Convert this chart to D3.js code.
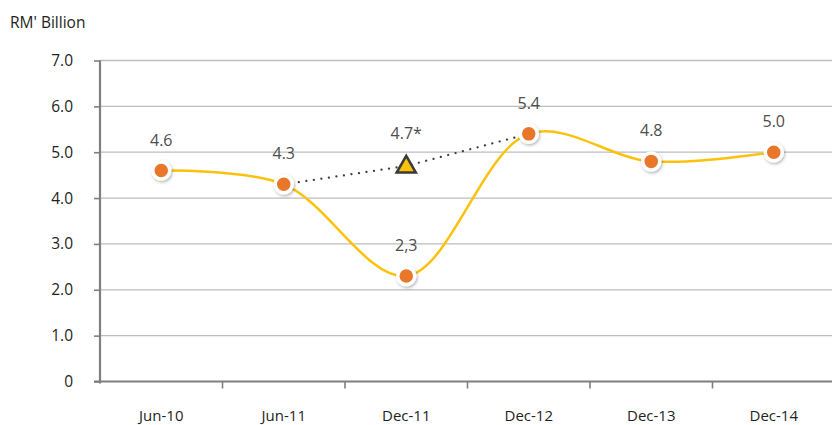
<!DOCTYPE html>
<html>
<head>
<meta charset="utf-8">
<script src="https://cdn.jsdelivr.net/npm/d3@7/dist/d3.min.js"></script>
<style>
  html, body { margin: 0; padding: 0; background: #fff; }
  svg { display: block; font-family: "Open Sans", "Noto Sans", sans-serif; }
</style>
</head>
<body>
<svg id="chart" width="832" height="425"></svg>
<script>
// Financing, RM' Billion
const categories = ["Jun-10", "Jun-11", "Dec-11", "Dec-12", "Dec-13", "Dec-14"];
const values = [4.6, 4.3, 2.3, 5.4, 4.8, 5.0];
const valueLabels = ["4.6", "4.3", "2,3", "5.4", "4.8", "5.0"];
// Adjusted Dec-11 figure, joined by a dotted line from Jun-11 to Dec-12
const adjustedCategory = "Dec-11";
const adjustedValue = 4.7;
const adjustedLabel = "4.7*";
const yTicks = [0, 1, 2, 3, 4, 5, 6, 7];
const yTickLabels = ["0", "1.0", "2.0", "3.0", "4.0", "5.0", "6.0", "7.0"];

const svg = d3.select("#chart");
const plotLeft = 100, plotRight = 835, plotTop = 60.5, plotBottom = 381.5;

const x = d3.scaleBand().domain(categories).range([plotLeft, plotRight]);
const y = d3.scaleLinear().domain([0, 7]).range([plotBottom, plotTop]);
const cx = d => x(d) + x.bandwidth() / 2;

const defs = svg.append("defs");
const shadow = defs.append("filter").attr("id", "shadow")
  .attr("x", "-50%").attr("y", "-50%").attr("width", "200%").attr("height", "200%");
shadow.append("feDropShadow").attr("dx", 1).attr("dy", 1.5)
  .attr("stdDeviation", 1.5).attr("flood-color", "#000").attr("flood-opacity", 0.3);

// Horizontal gridlines
svg.append("g").selectAll("line").data(yTicks.filter(t => t > 0)).join("line")
  .attr("x1", plotLeft).attr("x2", 832)
  .attr("y1", d => y(d)).attr("y2", d => y(d))
  .attr("stroke", "#bdbdbd").attr("stroke-width", 1.3);

// Y axis
const yAxis = svg.append("g").attr("transform", `translate(${plotLeft},0)`)
  .call(d3.axisLeft(y).tickValues(yTicks).tickFormat((d, i) => yTickLabels[i]).tickSize(6).tickPadding(21))
  .attr("font-family", null);
yAxis.select(".domain").attr("stroke", "#7f7f7f").attr("stroke-width", 2.2)
  .attr("d", `M0,${plotTop}V${plotBottom + 2}`);
yAxis.selectAll(".tick line").attr("stroke", "#7f7f7f").attr("stroke-width", 1.6);
yAxis.selectAll(".tick text").attr("fill", "#231f20").attr("font-size", 15.5);

// X axis
const xAxis = svg.append("g").attr("transform", `translate(0,${plotBottom})`)
  .call(d3.axisBottom(x).tickSize(0).tickPadding(29))
  .attr("font-family", null);
xAxis.select(".domain").attr("stroke", "#7f7f7f").attr("stroke-width", 2.2)
  .attr("d", `M${plotLeft - 6},0H832`);
xAxis.selectAll(".tick text").attr("fill", "#231f20").attr("font-size", 15);
// Tick marks between categories
svg.append("g").selectAll("line").data(categories.slice(1)).join("line")
  .attr("x1", d => x(d)).attr("x2", d => x(d))
  .attr("y1", plotBottom).attr("y2", plotBottom + 7)
  .attr("stroke", "#7f7f7f").attr("stroke-width", 1.6);

// Main series
const pts = categories.map((c, i) => [cx(c), y(values[i])]);
svg.append("path")
  .attr("d", d3.line().curve(d3.curveCatmullRom.alpha(0.5))(pts))
  .attr("fill", "none").attr("stroke", "#fcc20b").attr("stroke-width", 2.5);

// Dotted adjusted path
const iPrev = categories.indexOf(adjustedCategory) - 1;
const iNext = categories.indexOf(adjustedCategory) + 1;
const dotted = [
  [cx(categories[iPrev]), y(values[iPrev])],
  [cx(adjustedCategory), y(adjustedValue)],
  [cx(categories[iNext]), y(values[iNext])]
];
svg.append("path")
  .attr("d", d3.line()(dotted))
  .attr("fill", "none").attr("stroke", "#404040").attr("stroke-width", 2.2)
  .attr("stroke-dasharray", "0.1 7.5").attr("stroke-linecap", "round");

// Markers
svg.append("g").selectAll("circle").data(pts).join("circle")
  .attr("cx", d => d[0]).attr("cy", d => d[1]).attr("r", 8.5)
  .attr("fill", "#e9772a").attr("stroke", "#fff").attr("stroke-width", 3.5)
  .attr("filter", "url(#shadow)");

// Triangle marker
const tx = cx(adjustedCategory), ty = y(adjustedValue);
svg.append("path")
  .attr("d", d3.symbol().type(d3.symbolTriangle).size(160)())
  .attr("transform", `translate(${tx},${ty + 1})`)
  .attr("fill", "#fcc20b").attr("stroke", "#3a3a3a").attr("stroke-width", 2.5)
  .attr("stroke-linejoin", "miter");

// Value labels
svg.append("g").selectAll("text").data(pts).join("text")
  .attr("x", d => d[0]).attr("y", d => d[1] - 25)
  .attr("text-anchor", "middle").attr("font-size", 16).attr("fill", "#4d4d4d")
  .text((d, i) => valueLabels[i]);
svg.append("text")
  .attr("x", tx).attr("y", ty - 27)
  .attr("text-anchor", "middle").attr("font-size", 16).attr("fill", "#4d4d4d")
  .text(adjustedLabel);

// Unit label
svg.append("text").attr("x", 10).attr("y", 28)
  .attr("font-size", 15.5).attr("fill", "#231f20").text("RM' Billion");
</script>
</body>
</html>
